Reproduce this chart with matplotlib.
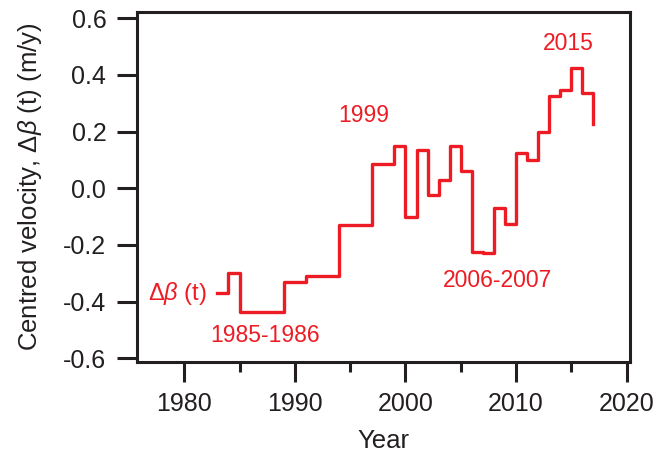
# Centred velocity, delta-beta(t), step plot
import matplotlib.pyplot as plt
from matplotlib.ticker import MultipleLocator

plt.rcParams['font.family'] = ['Liberation Sans', 'DejaVu Sans']
plt.rcParams['mathtext.fontset'] = 'custom'
plt.rcParams['mathtext.rm'] = 'Liberation Sans'
plt.rcParams['mathtext.it'] = 'Liberation Sans:italic'

# годы (левые края ступенек) и значения
years = [1983, 1984, 1985, 1989, 1991, 1994, 1997, 1999, 2000, 2001, 2002, 2003, 2004,
         2005, 2006, 2007, 2008, 2009, 2010, 2011, 2012, 2013, 2014, 2015, 2016, 2017]
dbeta = [-0.37, -0.30, -0.435, -0.33, -0.31, -0.13, 0.085, 0.15, -0.10, 0.135, -0.025, 0.03, 0.15,
         0.06, -0.225, -0.23, -0.07, -0.125, 0.125, 0.10, 0.20, 0.325, 0.345, 0.425, 0.335, 0.225]

# подписи
labels = ["1985-1986", "1999", "2006-2007", "2015"]
label_x = [1987.3, 1996.25, 2008.3, 2014.7]
label_y = [-0.518, 0.255, -0.324, 0.512]

red = '#ED1C24'
dark = '#231F20'

fig = plt.figure(figsize=(6.72, 4.55), dpi=100)
ax = fig.add_axes([0.2034, 0.2044, 0.7341, 0.7699])

ax.step(years, dbeta, where='post', color=red, linewidth=2.4)

for t, x, y in zip(labels, label_x, label_y):
    ax.text(x, y, t, color=red, fontsize=16.5, ha='center', va='center')
ax.text(1982.0, -0.37, r"$\Delta\beta$ (t)", color=red, fontsize=17, ha='right', va='center')

ax.set_xlim(1975.7, 2020.3)
ax.set_ylim(-0.613, 0.623)
ax.xaxis.set_major_locator(MultipleLocator(10))
ax.xaxis.set_minor_locator(MultipleLocator(5))
ax.set_yticks([-0.6, -0.4, -0.2, 0.0, 0.2, 0.4, 0.6])
ax.set_yticklabels(["-0.6", "-0.4", "-0.2", "0.0", "0.2", "0.4", "0.6"])

for s in ax.spines.values():
    s.set_linewidth(2.2)
    s.set_color(dark)
ax.tick_params(axis='both', which='major', direction='out', length=14.4, width=2.2,
               labelsize=18, colors=dark, pad=7.5)
ax.tick_params(axis='x', which='minor', direction='out', length=7.5, width=2.2, colors=dark)

ax.set_xlabel("Year", fontsize=18.5, color=dark, labelpad=9)
ax.set_ylabel(r"Centred velocity, $\Delta\beta$ (t) (m/y)", fontsize=18.5, color=dark, labelpad=14)

fig.savefig("out.png", dpi=100)
